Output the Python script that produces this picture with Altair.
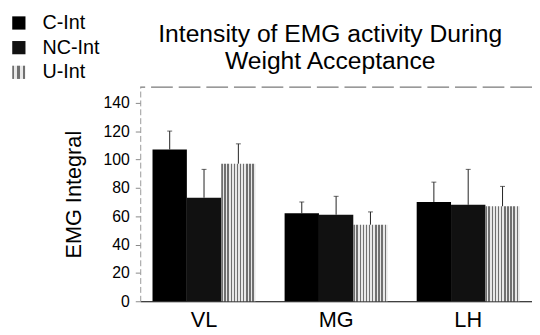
import altair as alt
import pandas as pd

muscles = ["VL", "MG", "LH"]
series = ["C-Int", "NC-Int", "U-Int"]
c_int = [107, 62, 70]
nc_int = [73, 61, 68]
u_int = [97, 54, 67]
c_upper = [120, 70, 84]
nc_upper = [93, 74, 93]
u_upper = [111, 63, 81]
y_ticks = [0, 20, 40, 60, 80, 100, 120, 140]

rows = []
for name, vals, ups in [("C-Int", c_int, c_upper), ("NC-Int", nc_int, nc_upper), ("U-Int", u_int, u_upper)]:
    for m, v, u in zip(muscles, vals, ups):
        rows.append({"muscle": m, "series": name, "value": v, "upper": u})
df = pd.DataFrame(rows)

# vertical stripe fill for U-Int (hatched bars)
n = 11
stops = []
for i in range(n):
    a = i / n
    b = (i + 0.45) / n
    c = (i + 1) / n
    stops.append("{offset:%.4f,color:'#707070'}" % a)
    stops.append("{offset:%.4f,color:'#707070'}" % b)
    stops.append("{offset:%.4f,color:'#e8e8e8'}" % b)
    stops.append("{offset:%.4f,color:'#e8e8e8'}" % c)
stripe_expr = "{gradient:'linear',x1:0,y1:0,x2:1,y2:0,stops:[" + ",".join(stops) + "]}"

FONT = "Liberation Sans"

x_axis = alt.Axis(labelAngle=0, labelFontSize=22, labelFont=FONT, labelColor="black",
                  ticks=False, domainColor="black", domainWidth=1.2, labelPadding=9)
x_scale = alt.Scale(paddingInner=0.22, paddingOuter=0.093)
y_axis = alt.Axis(values=y_ticks, labelFontSize=16, labelFont=FONT, labelColor="black",
                  labelOverlap=False,
                  titleFontSize=22, titleFont=FONT, titleFontWeight="normal", titleColor="black",
                  titlePadding=18, grid=False, domainColor="#999", domainDash=[6, 3],
                  tickColor="#888", tickSize=5, labelPadding=6)
y_scale = alt.Scale(domain=[0, 151], nice=False)


def xe():
    return alt.X("muscle:N", sort=muscles, title=None, scale=x_scale, axis=x_axis)


def xoe():
    return alt.XOffset("series:N", sort=series, scale=alt.Scale(paddingInner=0, paddingOuter=0))


base = alt.Chart(df)

bars = base.mark_bar(stroke=None).encode(
    x=xe(),
    xOffset=xoe(),
    y=alt.Y("value:Q", title="EMG Integral", scale=y_scale, axis=y_axis),
    color=alt.Color("series:N", sort=series,
                    scale=alt.Scale(domain=series, range=["#000000", "#111111", {"expr": stripe_expr}]),
                    legend=alt.Legend(title=None, orient="none", legendX=-133, legendY=-75,
                                      symbolType="square", symbolSize=180, symbolStrokeWidth=0,
                                      labelFontSize=20, labelFont=FONT, labelColor="black",
                                      labelOffset=14, rowPadding=5, padding=0)),
)

err = base.mark_rule(color="#222", strokeWidth=1).encode(
    x=xe(),
    xOffset=xoe(),
    y=alt.Y("value:Q", title="EMG Integral", scale=y_scale, axis=y_axis),
    y2="upper:Q",
)

caps = base.mark_tick(color="#222", orient="horizontal", size=5, thickness=1).encode(
    x=xe(),
    xOffset=xoe(),
    y=alt.Y("upper:Q", title="EMG Integral", scale=y_scale, axis=y_axis),
)

top = alt.Chart(pd.DataFrame({"a": [0]})).mark_rule(color="#555", strokeDash=[22, 6], strokeWidth=1).encode(
    y=alt.value(0)
)

chart = alt.layer(bars, err, caps, top).properties(
    width=397, height=217,
    autosize=alt.AutoSizeParams(type="none"),
    padding={"left": 134, "top": 78, "right": 0, "bottom": 31},
    title=alt.Title(["Intensity of EMG activity During", "Weight Acceptance"],
                    fontSize=25, font=FONT, fontWeight="normal", color="black",
                    anchor="middle", frame="group", offset=0, lineHeight=28, dx=-6, dy=62),
).configure_view(stroke=None)

chart.save("out.html", embed_options={"renderer": "svg", "actions": False})
